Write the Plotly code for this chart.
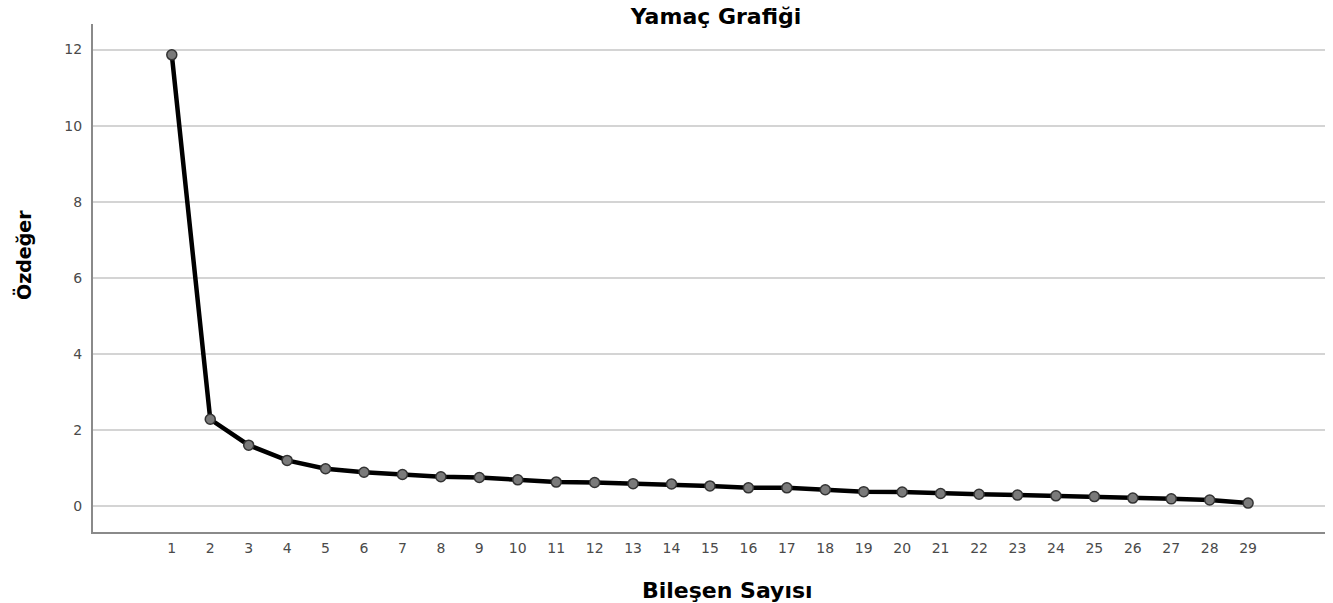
import plotly.graph_objects as go

components = list(range(1, 30))
eigenvalues = [11.86, 2.29, 1.61, 1.21, 0.99, 0.90, 0.84, 0.78, 0.76, 0.70,
               0.64, 0.63, 0.60, 0.59, 0.54, 0.49, 0.49, 0.44, 0.39, 0.38,
               0.34, 0.32, 0.30, 0.28, 0.26, 0.22, 0.20, 0.17, 0.09]
y_ticks = [0, 2, 4, 6, 8, 10, 12]
title_text = "Yamaç Grafiği"
x_title = "Bileşen Sayısı"
y_title = "Özdeğer"

W, H = 1333, 603
L, R, T, B = 93, 8, 24, 71
TITLE_FONT = dict(family="DejaVu Sans", size=22, color="black")
YTITLE_FONT = dict(family="DejaVu Sans", size=19, color="black")

fig = go.Figure()
fig.add_trace(go.Scatter(
    x=components, y=eigenvalues, mode="lines+markers",
    line=dict(color="black", width=4.5),
    marker=dict(size=10, color="#7a7a7a", line=dict(color="#333333", width=1.5)),
    showlegend=False,
))

fig.update_layout(
    width=W, height=H,
    margin=dict(l=L, r=R, t=T, b=B),
    paper_bgcolor="white", plot_bgcolor="white",
    title=dict(text="<b>" + title_text + "</b>", x=716 / W, xanchor="center",
               y=1 - 16 / H, yanchor="middle", font=TITLE_FONT),
    xaxis=dict(
        range=[-1.05, 31.0], tickmode="array", tickvals=components,
        ticktext=[str(c) for c in components], automargin=False,
        showgrid=False, zeroline=False, showline=True, linecolor="#8a8a8a", linewidth=2,
        ticks="", ticklabelstandoff=2,
        tickfont=dict(family="DejaVu Sans", size=14, color="#4a4a4a"),
    ),
    yaxis=dict(
        range=[-0.67, 12.67], tickmode="array", tickvals=y_ticks, automargin=False,
        showgrid=True, gridcolor="#d4d4d4", gridwidth=2, zeroline=False,
        showline=True, linecolor="#8a8a8a", linewidth=2, ticks="", ticklabelstandoff=6,
        tickfont=dict(family="DejaVu Sans", size=14, color="#4a4a4a"),
    ),
    annotations=[
        dict(text="<b>" + x_title + "</b>", xref="paper", yref="paper",
             x=(727 - L) / (W - L - R), y=0, yshift=-(590 - (H - B)),
             xanchor="center", yanchor="middle", showarrow=False, font=TITLE_FONT),
        dict(text="<b>" + y_title + "</b>", xref="paper", yref="paper",
             x=0, xshift=-(L - 24), y=((H - B) - 255) / (H - T - B),
             xanchor="center", yanchor="middle", textangle=-90,
             showarrow=False, font=YTITLE_FONT),
    ],
)

fig.write_html("out.html", config={"displayModeBar": False},
               post_script="document.body.style.margin='0';")
